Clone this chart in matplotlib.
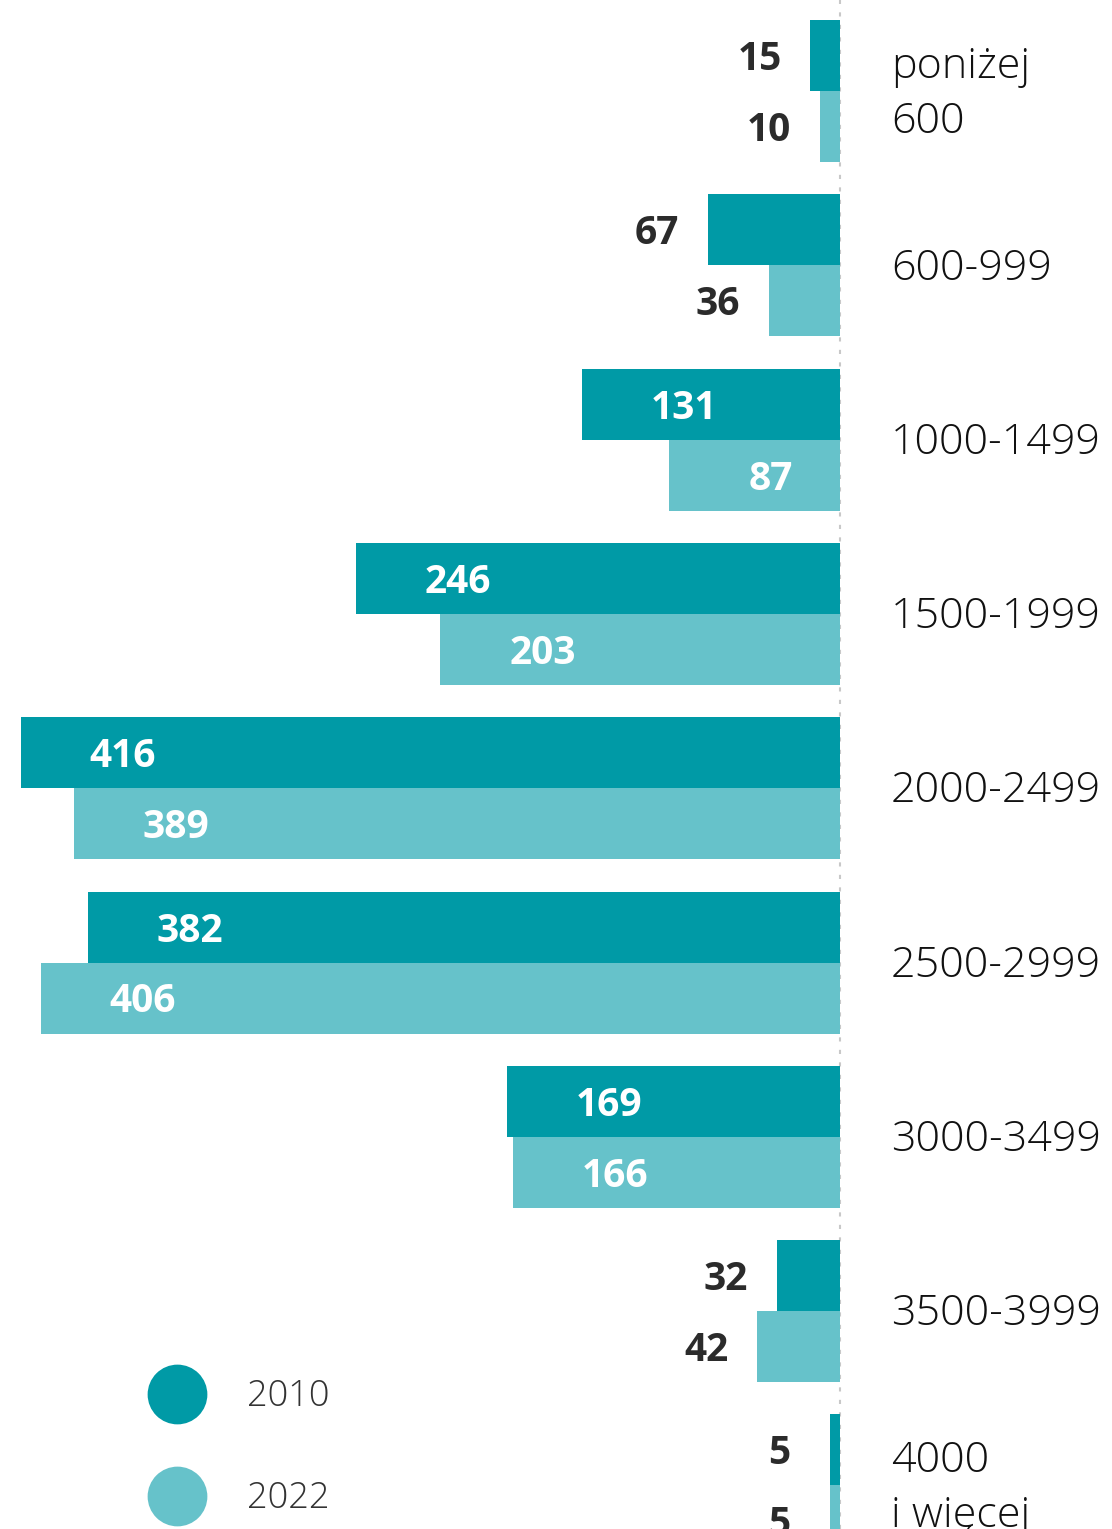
import matplotlib
matplotlib.use("Agg")
import matplotlib.pyplot as plt
import numpy as np

categories = ["poniżej\n600", "600-999", "1000-1499", "1500-1999", "2000-2499",
              "2500-2999", "3000-3499", "3500-3999", "4000\ni więcej"]
values_2010 = [15, 67, 131, 246, 416, 382, 169, 32, 5]
values_2022 = [10, 36, 87, 203, 389, 406, 166, 42, 5]
series_names = ["2010", "2022"]

c2010 = "#009aa6"
c2022 = "#66c2ca"
txt = "#2b2b2b"

W, H = 1112, 1529
fig = plt.figure(figsize=(W / 100, H / 100), dpi=100)
ax = fig.add_axes([0, 0, 1, 1])

# 1 value unit = ~1.969 px, zero line at x=840 px
ppu = 819 / 416
ax.set_xlim(-840 / ppu, (W - 840) / ppu)
ax.set_ylim(H, 0)
ax.axis("off")

group_gap = 174.3
first_center = 91
bar_h = 71
centers = first_center + group_gap * np.arange(len(categories))

ax.barh(centers - bar_h / 2, [-v for v in values_2010], height=bar_h, color=c2010, lw=0)
ax.barh(centers + bar_h / 2, [-v for v in values_2022], height=bar_h, color=c2022, lw=0)

ax.axvline(0, color="#c8c8c8", lw=1.5, ls=(0, (2, 4)), zorder=0)

fam = ["Open Sans", "DejaVu Sans"]
inside_off = 102 / ppu
outside_off = 51 / ppu
dy = 4  # text sits a little low in the bars
for yc, vals in ((centers - bar_h / 2, values_2010), (centers + bar_h / 2, values_2022)):
    for y, v in zip(yc, vals):
        if v > 80:
            ax.text(-v + inside_off, y + dy, str(v), color="white", fontsize=28, fontweight="bold",
                    family=fam, ha="center", va="center")
        else:
            ax.text(-v - outside_off, y + dy, str(v), color=txt, fontsize=28, fontweight="bold",
                    family=fam, ha="center", va="center")

for y, lab in zip(centers, categories):
    ax.text(51 / ppu, y + 3, lab, color="#111111", fontsize=31, fontweight="light",
            family=fam, ha="left", va="center", linespacing=1.4)

# legend
for i, (name, col) in enumerate(zip(series_names, [c2010, c2022])):
    ly = 1 - (1394 + 102 * i) / H
    ax.scatter([177 / W], [ly], s=1850, color=col, transform=ax.transAxes, lw=0)
    ax.text(247 / W, ly - 3 / H, name, transform=ax.transAxes, color="#333333", fontsize=26,
            fontweight="light", family=fam, ha="left", va="center")

fig.savefig("out.png", dpi=100)
